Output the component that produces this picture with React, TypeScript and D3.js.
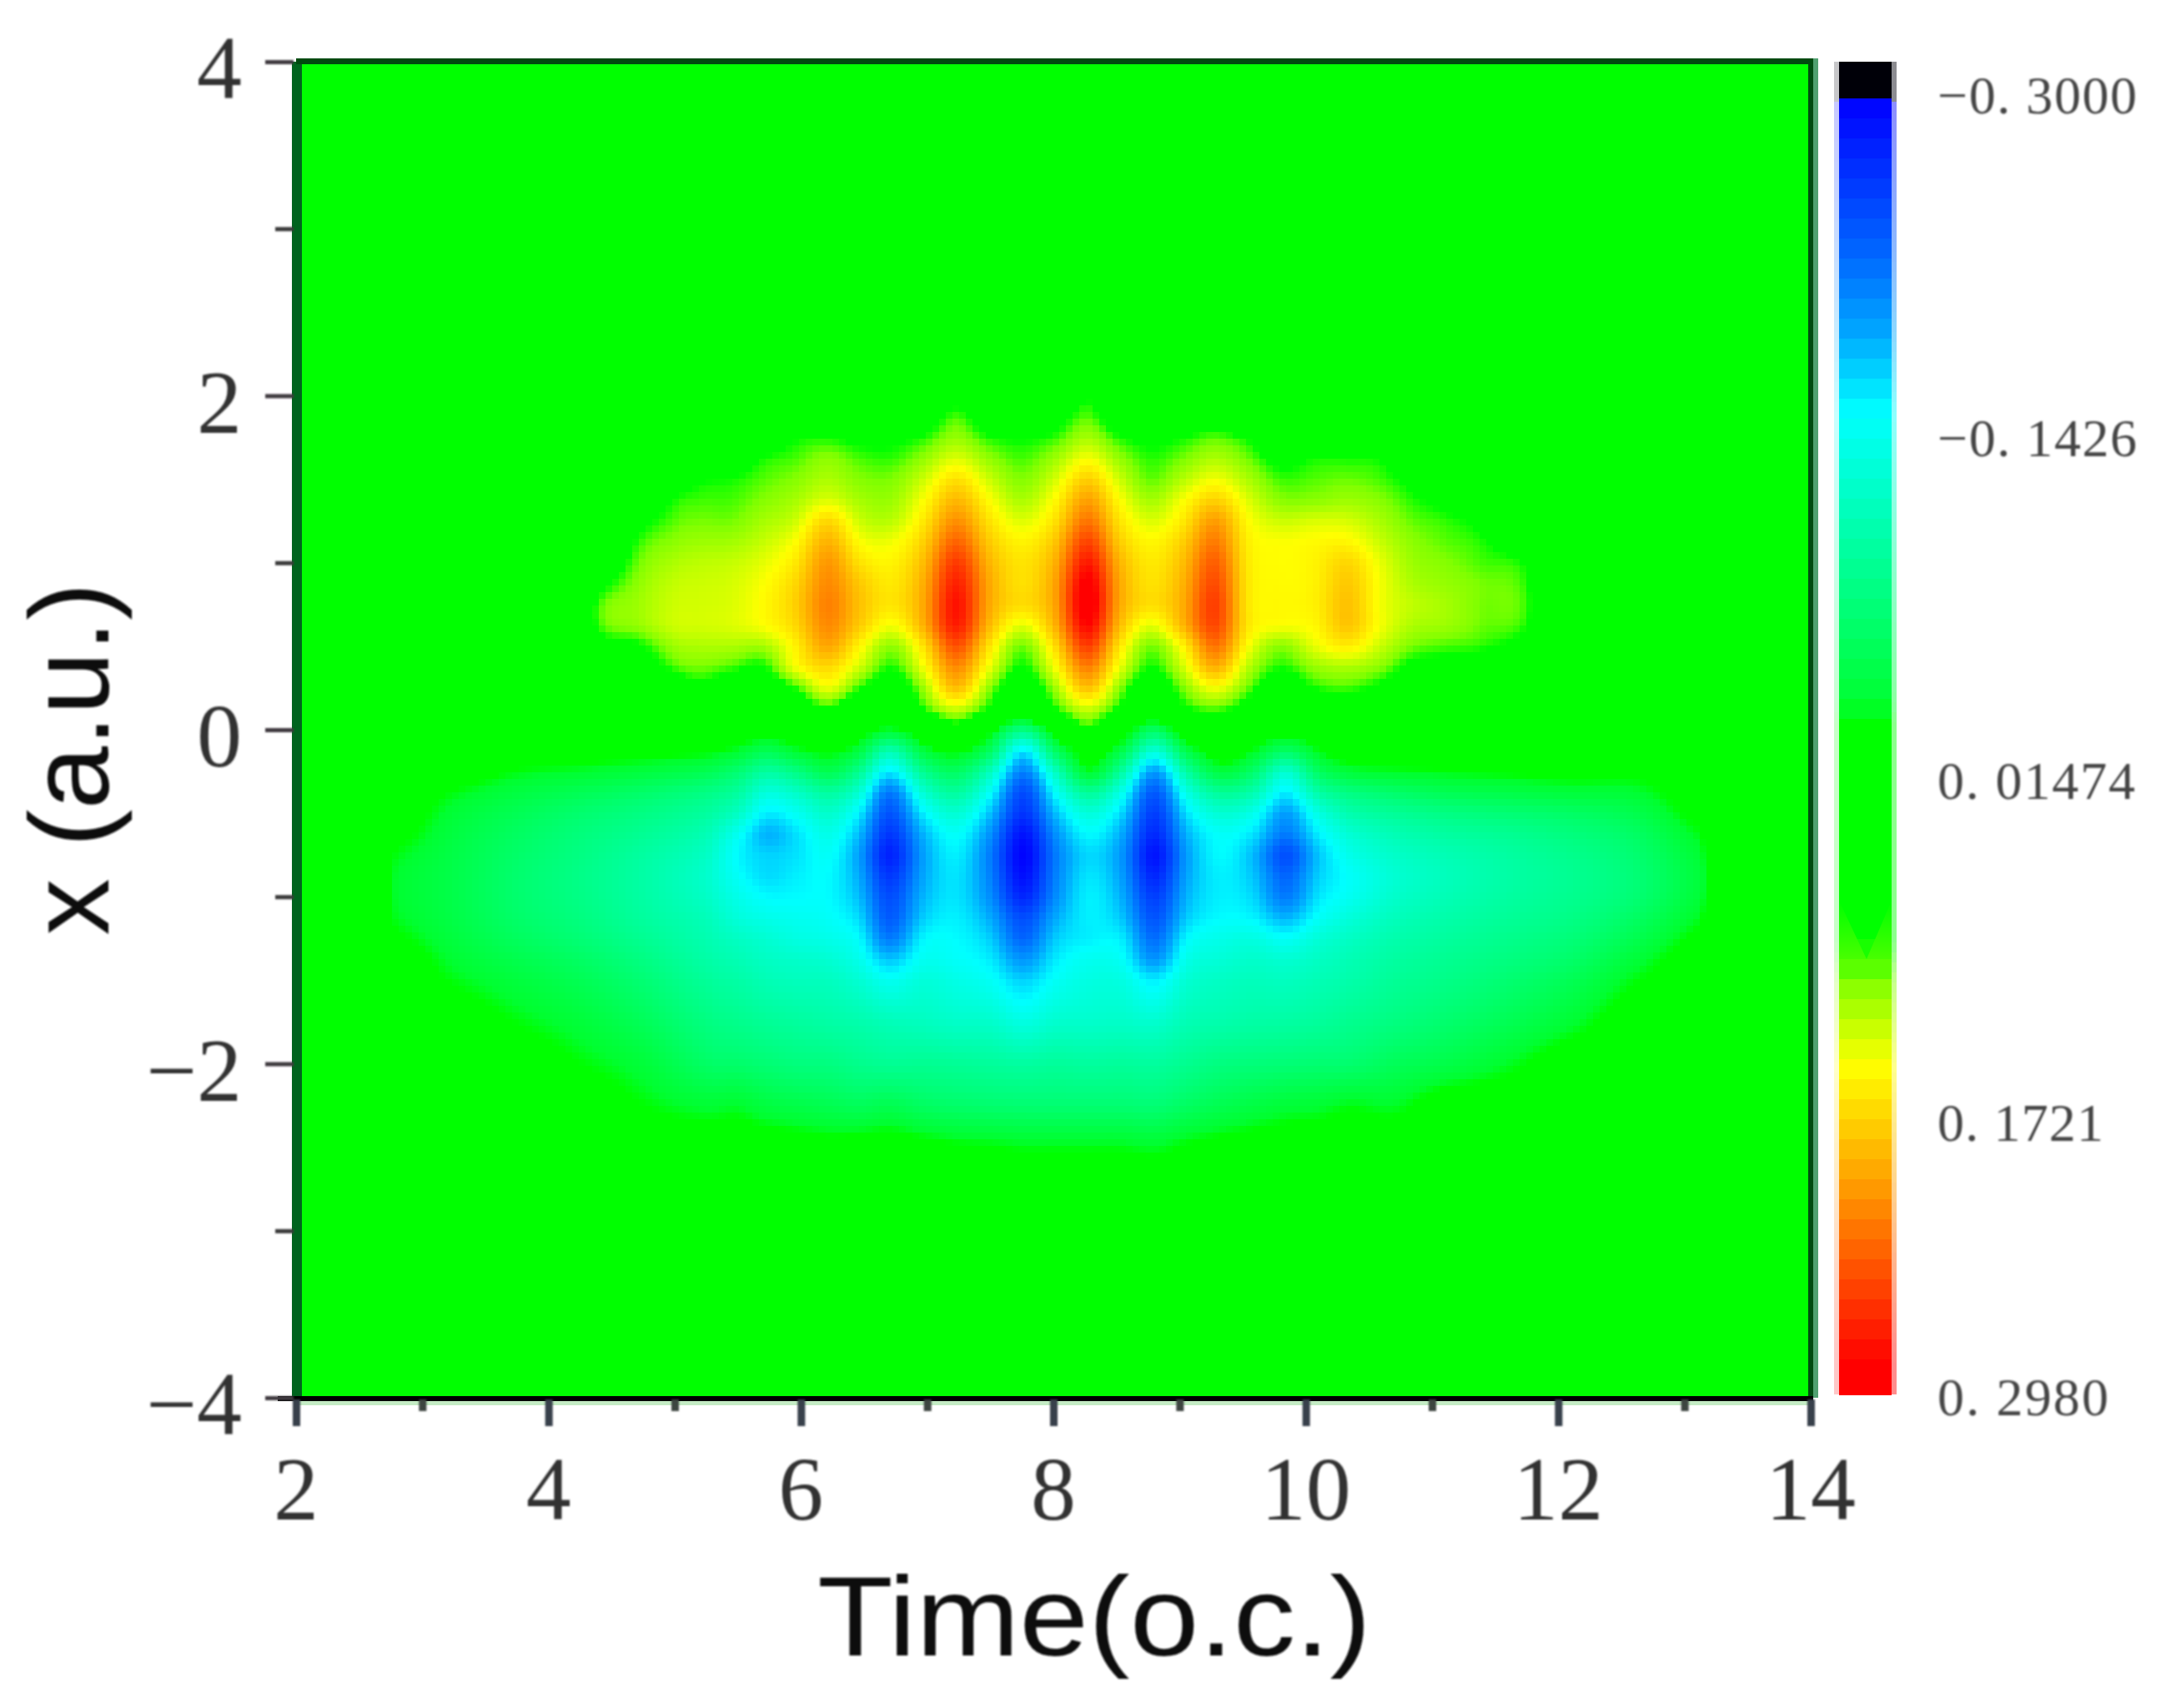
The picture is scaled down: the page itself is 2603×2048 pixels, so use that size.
import React, { useEffect, useRef } from "react";
import * as d3 from "d3";

// Values. Field values are in thousandths.
const timeMajorTicks = [2, 4, 6, 8, 10, 12, 14];
const timeMinorTicks = [3, 5, 7, 9, 11, 13];
const xMajorTicks = [4, 2, 0, -2, -4];
const xMinorTicks = [3, 1, -1, -3];
const colorbarLabels = ["\u22120. 3000", "\u22120. 1426", "0. 01474", "0. 1721", "0. 2980"];
const colorbarLabelValues = [-0.3, -0.1426, 0.01474, 0.1721, 0.298];

const positiveTimes = [4.4, 4.7, 5.0, 5.2, 5.45, 5.7, 5.95, 6.21, 6.47, 6.72, 6.97, 7.23, 7.49, 7.75, 8.01, 8.27, 8.52, 8.77, 9.02, 9.28, 9.54, 9.8, 10.07, 10.33, 10.6, 10.85, 11.1, 11.4, 11.75];
const positiveX = [2, 1.875, 1.75, 1.625, 1.5, 1.375, 1.25, 1.125, 1, 0.875, 0.75, 0.625, 0.5, 0.375, 0.25, 0.125, 0];
const positiveLobes = [
  [0,0,0,0,0,0,20,30,50,75,97,95,70,40,20,0,0],
  [0,0,0,0,20,50,75,92,102,110,115,112,85,60,35,10,0],
  [0,0,0,30,65,90,100,110,120,127,130,130,115,97,60,20,0],
  [0,0,15,50,85,97,105,115,125,130,132,132,120,105,80,30,0],
  [0,0,30,65,90,98,105,117,128,133,135,135,120,97,60,20,0],
  [0,20,60,90,100,108,118,128,138,145,148,145,118,88,60,30,0],
  [10,45,85,98,108,118,130,146,158,168,172,167,152,142,92,50,5],
  [30,60,90,110,120,135,167,188,203,210,215,210,195,167,140,88,30],
  [5,40,80,98,108,118,130,146,162,176,180,174,150,130,92,40,5],
  [0,30,80,95,107,115,125,142,152,158,160,143,112,92,60,20,0],
  [20,60,92,112,130,145,158,172,184,192,195,190,162,143,115,90,20],
  [70,98,113,135,162,185,207,230,252,266,274,268,240,210,182,130,70],
  [20,60,92,112,130,147,162,176,188,195,195,186,162,142,112,85,20],
  [0,40,85,98,108,120,136,152,161,163,165,138,105,88,60,30,0],
  [30,70,95,115,132,148,162,178,190,197,197,188,164,143,115,88,30],
  [80,100,118,143,172,198,221,247,270,288,295,280,250,216,180,130,85],
  [20,60,92,113,131,148,162,176,190,197,197,186,162,142,112,85,20],
  [0,35,80,94,102,118,135,150,158,162,164,138,106,90,60,30,0],
  [10,50,88,105,122,143,157,172,182,188,191,185,150,130,105,80,20],
  [30,70,100,120,142,171,200,218,233,243,250,245,222,190,143,100,40],
  [0,30,85,104,120,136,148,155,158,160,160,160,146,125,103,70,10],
  [0,10,50,80,97,110,130,145,147,148,149,145,110,92,60,20,0],
  [0,25,60,90,100,110,134,148,152,153,154,150,138,113,90,50,5],
  [0,25,60,90,103,115,133,150,168,176,180,178,155,120,97,60,10],
  [0,15,40,85,97,108,118,128,138,142,142,142,128,108,80,40,0],
  [0,0,20,50,80,93,102,110,115,120,126,120,105,80,50,20,0],
  [0,0,0,30,60,80,95,101,108,113,118,115,98,75,40,10,0],
  [0,0,0,0,30,60,80,92,98,105,105,103,93,65,30,5,0],
  [0,0,0,0,0,20,40,60,85,92,95,90,70,40,15,0,0],
];

const negativeTimes = [2.6, 2.8, 3.25, 3.75, 4.25, 4.75, 5.25, 5.5, 5.73, 5.97, 6.22, 6.46, 6.7, 6.97, 7.23, 7.5, 7.76, 8.02, 8.28, 8.54, 8.8, 9.06, 9.32, 9.58, 9.84, 10.1, 10.35, 10.7, 11.1, 11.6, 12.1, 12.6, 13.1, 13.3];
const negativeX = [0, -0.125, -0.25, -0.375, -0.5, -0.625, -0.75, -0.875, -1, -1.125, -1.25, -1.375, -1.5, -1.75, -2, -2.25, -2.5, -2.75];
const negativeLobeDepth = [
  [0,0,0,0,0,0,0,0,0,0,0,0,0,0,0,0,0,0],
  [0,0,0,0,0,6,15,20,20,17,9,0,0,0,0,0,0,0],
  [0,0,0,14,24,30,34,36,36,34,29,22,14,0,0,0,0,0],
  [0,0,14,30,42,50,55,58,58,55,48,38,28,13,0,0,0,0],
  [0,2,20,42,58,67,72,75,74,70,63,52,42,26,12,0,0,0],
  [0,6,28,55,72,83,92,95,94,90,82,72,62,45,26,12,0,0],
  [0,10,40,72,90,105,115,120,116,108,102,95,86,70,52,22,0,0],
  [0,20,60,90,115,145,155,150,140,130,115,105,95,78,56,20,0,0],
  [0,40,90,130,160,185,172,168,155,140,125,115,105,85,62,30,0,0],
  [0,20,70,115,145,165,165,160,155,145,135,120,110,90,68,35,2,0],
  [0,10,40,90,120,140,150,155,155,150,140,125,112,95,70,40,5,0],
  [0,30,80,125,160,182,195,190,182,170,155,142,125,100,78,45,2,0],
  [20,100,160,215,240,260,275,260,245,235,215,178,145,108,83,40,0,0],
  [0,30,80,125,160,185,195,192,185,175,158,146,130,112,82,50,5,0],
  [0,10,50,90,125,150,160,165,165,160,155,150,138,118,85,55,10,0],
  [20,50,110,150,180,203,215,212,205,190,175,162,148,120,88,58,12,0],
  [70,160,210,245,262,285,296,288,272,245,228,200,172,135,92,60,15,0],
  [20,50,110,150,180,203,215,212,205,190,175,162,148,122,88,60,15,0],
  [0,0,20,85,130,155,170,165,160,160,160,145,135,120,90,60,15,0],
  [0,35,90,140,170,190,200,196,188,178,162,150,135,118,88,60,15,0],
  [50,125,195,235,255,270,285,272,255,240,223,200,160,122,90,62,18,0],
  [0,35,90,135,165,185,195,192,185,175,156,140,125,105,80,50,10,0],
  [0,0,30,85,125,150,155,160,160,155,140,128,115,100,70,40,5,0],
  [0,15,55,100,140,165,182,178,170,158,135,120,110,95,66,32,2,0],
  [0,50,120,160,195,215,243,228,215,185,150,125,112,93,63,25,0,0],
  [0,15,50,95,135,160,178,174,165,150,128,115,105,88,60,22,0,0],
  [0,0,25,70,100,125,140,150,145,130,115,105,98,80,58,15,0,0],
  [0,2,18,55,85,105,118,125,120,110,100,92,85,70,45,18,0,0],
  [0,0,14,42,72,92,105,110,106,98,90,82,75,58,35,0,0,0],
  [0,0,10,34,62,82,92,95,92,86,78,70,60,42,18,0,0,0],
  [0,0,6,26,52,68,78,82,80,74,65,55,42,22,0,0,0,0],
  [0,0,8,22,38,52,60,64,62,52,40,26,14,0,0,0,0,0],
  [0,0,0,0,6,16,24,28,26,18,8,0,0,0,0,0,0,0],
  [0,0,0,0,0,0,0,0,0,0,0,0,0,0,0,0,0,0],
];

const colorStops = [-0.316, -0.2985, -0.298, -0.265, -0.226, -0.19, -0.154, -0.06, -0.02, -0.012, 0, 0.089, 0.1065, 0.146, 0.199, 0.232, 0.283, 0.3];
const colorRange = ["#000008", "#00000c", "#0000ff", "#0030ff", "#0068ff", "#00a8ff", "#00ffff", "#00ff70", "#00ff30", "#00ff00", "#00ff00", "#00ff00", "#80ff00", "#ffff00", "#ffa000", "#ff6000", "#ff0000", "#ff0000"];

const W = 2603;
const H = 2048;
const plot = { left: 355, right: 2171, top: 74, bottom: 1676 };
const CELL = 8;

// Display resampling of a read grid, in grid-index space.
function makeSampler(times: number[], xs: number[], grid: number[][]) {
  const ci = d3.scaleLinear(times, d3.range(times.length));
  const ri = d3.scaleLinear(xs, d3.range(xs.length));
  const get = (c: number, r: number) => (c < 0 || r < 0 || c >= grid.length || r >= grid[0].length ? 0 : grid[c][r]);
  const w = (p: number) => [
    -0.5 * p * p * p + p * p - 0.5 * p,
    1.5 * p * p * p - 2.5 * p * p + 1,
    -1.5 * p * p * p + 2 * p * p + 0.5 * p,
    0.5 * p * p * p - 0.5 * p * p,
  ];
  return (t: number, x: number) => {
    const c = ci(t), r = ri(x);
    if (c <= -1 || r <= -1 || c >= grid.length || r >= grid[0].length) return 0;
    const c0 = Math.floor(c), r0 = Math.floor(r);
    const wc = w(c - c0), wr = w(r - r0);
    let s = 0;
    for (let a = 0; a < 4; a++) for (let b = 0; b < 4; b++) s += wc[a] * wr[b] * get(c0 - 1 + a, r0 - 1 + b);
    return Math.max(0, s) / 1000;
  };
}

export default function App() {
  const ref = useRef<SVGSVGElement>(null);
  useEffect(() => {
    const svg = d3.select(ref.current!);
    svg.selectAll("*").remove();

    const tScale = d3.scaleLinear([2, 14], [plot.left, plot.right]);
    const xScale = d3.scaleLinear([-4, 4], [plot.bottom, plot.top]);
    const color = d3.scaleLinear<string>(colorStops, colorRange).interpolate(d3.interpolateRgb as any);
    const barScale = d3.scaleLinear([-0.3, 0.298], [114, 1675]);

    const pos = makeSampler(positiveTimes, positiveX, positiveLobes);
    const neg = makeSampler(negativeTimes, negativeX, negativeLobeDepth);

    const defs = svg.append("defs");
    defs.append("filter").attr("id", "soft").attr("x", "-5%").attr("y", "-5%").attr("width", "110%").attr("height", "110%")
      .append("feGaussianBlur").attr("stdDeviation", 1);
    const lime = defs.append("linearGradient").attr("id", "limeShoulder").attr("x1", 0).attr("y1", 0).attr("x2", 0).attr("y2", 1);
    lime.append("stop").attr("offset", 0).attr("stop-color", "#00ff00");
    lime.append("stop").attr("offset", 1).attr("stop-color", "#48ff00");

    svg.append("rect").attr("width", W).attr("height", H).attr("fill", "#fff");
    svg.append("rect").attr("x", plot.left).attr("y", plot.top).attr("width", plot.right - plot.left).attr("height", plot.bottom - plot.top).attr("fill", "#00ff00");

    // Heat map cells
    const cells: { x: number; y: number; c: string }[] = [];
    for (let py = 470; py < 1450; py += CELL) {
      for (let px = 470; px < 2060; px += CELL) {
        const t = tScale.invert(px + CELL / 2);
        const x = xScale.invert(py + CELL / 2);
        const v = pos(t, x) - neg(t, x);
        if (v >= -0.012 && v <= 0.089) continue;
        cells.push({ x: px, y: py, c: color(v) });
      }
    }
    svg.append("g").attr("shape-rendering", "crispEdges").selectAll("rect").data(cells).join("rect")
      .attr("x", (d) => d.x).attr("y", (d) => d.y).attr("width", CELL).attr("height", CELL).attr("fill", (d) => d.c);

    // Frame
    const frame = svg.append("g").attr("shape-rendering", "crispEdges");
    frame.append("rect").attr("x", plot.left - 5).attr("y", plot.top).attr("width", 12).attr("height", plot.bottom - plot.top).attr("fill", "#00641e");
    frame.append("rect").attr("x", plot.left).attr("y", plot.top - 4).attr("width", plot.right - plot.left + 3).attr("height", 7).attr("fill", "#004a10");
    frame.append("rect").attr("x", plot.right + 3).attr("y", plot.top - 4).attr("width", 6).attr("height", plot.bottom - plot.top + 4).attr("fill", "#50a070");
    frame.append("rect").attr("x", plot.right - 3).attr("y", plot.top - 4).attr("width", 6).attr("height", plot.bottom - plot.top + 8).attr("fill", "#004a10");
    frame.append("rect").attr("x", plot.left).attr("y", plot.bottom + 3).attr("width", plot.right - plot.left).attr("height", 6).attr("fill", "#c4ebc4");
    frame.append("rect").attr("x", plot.left - 22).attr("y", plot.bottom - 2).attr("width", plot.right - plot.left + 25).attr("height", 6).attr("fill", "#000");

    // Axes
    const labels = svg.append("g").attr("filter", "url(#soft)");
    const styleTicks = (g: any, width: number, stroke: string) => {
      g.select(".domain").remove();
      g.selectAll(".tick line").attr("stroke", stroke).attr("stroke-width", width);
    };
    const serif = "'Liberation Serif', 'Times New Roman', serif";

    labels.append("g").attr("transform", `translate(0,${plot.bottom + 2})`)
      .call(d3.axisBottom(tScale).tickValues(timeMinorTicks).tickSize(14).tickFormat(() => "") as any)
      .call((g: any) => styleTicks(g, 9, "#3c4440"));
    labels.append("g").attr("transform", `translate(0,${plot.bottom + 2})`)
      .call(d3.axisBottom(tScale).tickValues(timeMajorTicks).tickSize(32).tickFormat(() => "") as any)
      .call((g: any) => styleTicks(g, 9, "#38404c"));
    labels.append("g").attr("transform", `translate(${plot.left - 3},0)`)
      .call(d3.axisLeft(xScale).tickValues(xMinorTicks).tickSize(22).tickFormat(() => "") as any)
      .call((g: any) => styleTicks(g, 5, "#3a3a3a"));
    labels.append("g").attr("transform", `translate(${plot.left - 3},0)`)
      .call(d3.axisLeft(xScale).tickValues(xMajorTicks).tickSize(34).tickFormat(() => "") as any)
      .call((g: any) => styleTicks(g, 5, "#403a40"));

    labels.selectAll("text.tl").data(timeMajorTicks).join("text").attr("class", "tl")
      .attr("x", (d) => tScale(d)).attr("y", 1822).attr("text-anchor", "middle")
      .attr("font-family", serif).attr("font-size", 108).attr("fill", "#333").text((d) => String(d));
    labels.selectAll("text.xl").data(xMajorTicks).join("text").attr("class", "xl")
      .attr("x", 290).attr("y", (d) => xScale(d) + 44).attr("text-anchor", "end")
      .attr("font-family", serif).attr("font-size", 108).attr("fill", "#333")
      .text((d) => (d < 0 ? "\u2212" + -d : String(d)));

    // Axis titles
    const sans = "'Liberation Sans', Arial, sans-serif";
    labels.append("text").attr("x", 980).attr("y", 1985).attr("font-family", sans).attr("font-size", 136).attr("fill", "#111")
      .attr("textLength", 664).attr("lengthAdjust", "spacingAndGlyphs").text("Time(o.c.)");
    labels.append("text").attr("transform", "translate(130,910) rotate(-90)").attr("text-anchor", "middle").attr("font-family", sans).attr("font-size", 136).attr("fill", "#111")
      .text("x (a.u.)");

    // Colour bar
    const bandH = 24;
    const barTop = 74, barStart = 118, barBottom = 1672;
    const barColor = (y: number) => color(barScale.invert(y));
    const bar = svg.append("g").attr("shape-rendering", "crispEdges");
    const halo = d3.range(barTop, barBottom, 12);
    const haloH = (d: number) => Math.min(12, barBottom - d);
    bar.selectAll("rect.haloL").data(halo).join("rect").attr("class", "haloL")
      .attr("x", 2199).attr("y", (d) => d).attr("width", 6).attr("height", haloH)
      .attr("fill", (d) => barColor(d + 6)).attr("opacity", 0.22);
    bar.selectAll("rect.haloR").data(halo).join("rect").attr("class", "haloR")
      .attr("x", 2268).attr("y", (d) => d).attr("width", 6).attr("height", haloH)
      .attr("fill", (d) => barColor(d + 6)).attr("opacity", 0.45);
    bar.append("rect").attr("x", 2205).attr("y", barTop).attr("width", 63).attr("height", barStart - barTop).attr("fill", colorRange[0]);
    const bands = d3.range(barStart, barBottom, bandH).map((y) => ({ y, h: Math.min(bandH, barBottom - y) }));
    bar.selectAll("rect.band").data(bands).join("rect").attr("class", "band")
      .attr("x", 2205).attr("y", (d) => d.y).attr("width", 63).attr("height", (d) => d.h + 0.5)
      .attr("fill", (d) => barColor(d.y + d.h / 2));
    // Lime shoulders where the bar leaves green
    svg.append("path").attr("d", "M2205,1080L2238,1150L2205,1150Z").attr("fill", "url(#limeShoulder)");
    svg.append("path").attr("d", "M2268,1080L2238,1150L2268,1150Z").attr("fill", "url(#limeShoulder)");

    labels.selectAll("text.cb").data(colorbarLabels).join("text").attr("class", "cb")
      .attr("x", 2323).attr("y", (_, i) => barScale(colorbarLabelValues[i]) + 22)
      .attr("font-family", serif).attr("font-size", 64).attr("fill", "#444")
      .attr("textLength", (_, i) => [239, 239, 237, 199, 205][i]).attr("lengthAdjust", "spacing")
      .text((d) => d);
  }, []);
  return <svg ref={ref} width={W} height={H} style={{ position: "absolute", left: 0, top: 0, display: "block" }} />;
}
